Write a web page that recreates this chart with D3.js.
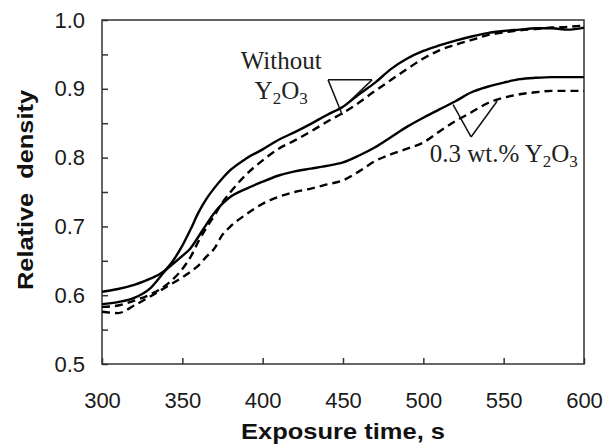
<!DOCTYPE html>
<html>
<head>
<meta charset="utf-8">
<script src="https://cdn.jsdelivr.net/npm/d3@7"></script>
<style>
  body { margin: 0; background: #fff; }
  svg { display: block; }
  .tick text { font-family: "Liberation Sans", Arial, sans-serif; font-size: 22px; fill: #1a1a1a; }
  .title { font-family: "Liberation Sans", Arial, sans-serif; font-size: 22px; font-weight: bold; fill: #111; }
  .note { font-family: "Liberation Serif", "Times New Roman", serif; font-size: 25px; fill: #222; }
</style>
</head>
<body>
<svg id="chart" width="609" height="448"></svg>
<script>
// exposure time (s) for each sample of the curves
var times = [300, 310, 320, 330, 340, 350, 355, 360, 365, 370, 375, 380, 390, 400, 410, 420, 430, 440,
    450, 460, 470, 480, 490, 500, 510, 520, 530, 540, 550, 560, 570, 580, 590, 600];

// without Y2O3
var withoutSolid = [0.605, 0.609, 0.615, 0.624, 0.638, 0.672, 0.695, 0.720, 0.740, 0.756, 0.770, 0.782, 0.799, 0.812,
    0.826, 0.837, 0.849, 0.862, 0.874, 0.892, 0.909, 0.929, 0.944, 0.955, 0.963, 0.970, 0.976, 0.981, 0.984, 0.986,
    0.988, 0.988, 0.986, 0.989];
var withoutDashed = [0.583, 0.585, 0.592, 0.601, 0.615, 0.638, 0.655, 0.678, 0.698, 0.716, 0.735, 0.750, 0.776, 0.796,
    0.813, 0.825, 0.838, 0.852, 0.865, 0.880, 0.897, 0.913, 0.929, 0.944, 0.956, 0.964, 0.971, 0.978, 0.982, 0.985,
    0.987, 0.989, 0.990, 0.992];

// 0.3 wt.% Y2O3
var dopedSolid = [0.587, 0.590, 0.596, 0.610, 0.637, 0.657, 0.668, 0.685, 0.703, 0.720, 0.733, 0.743, 0.755, 0.765,
    0.774, 0.780, 0.784, 0.788, 0.793, 0.803, 0.815, 0.830, 0.845, 0.858, 0.870, 0.882, 0.895, 0.903, 0.909, 0.914,
    0.916, 0.917, 0.917, 0.917];
var dopedDashed = [0.576, 0.574, 0.585, 0.598, 0.612, 0.626, 0.634, 0.643, 0.656, 0.668, 0.688, 0.700, 0.718, 0.733,
    0.743, 0.750, 0.755, 0.761, 0.767, 0.780, 0.795, 0.805, 0.813, 0.822, 0.838, 0.853, 0.866, 0.879, 0.887, 0.892,
    0.895, 0.897, 0.897, 0.897];

var xTicks = [300, 350, 400, 450, 500, 550, 600];
var yTicks = [0.5, 0.55, 0.6, 0.65, 0.7, 0.75, 0.8, 0.85, 0.9, 0.95, 1.0];

var svg = d3.select("#chart"),
    plotLeft = 102, plotRight = 584, plotTop = 20, plotBottom = 364;

var x = d3.scaleLinear().domain([300, 600]).range([plotLeft, plotRight]);
var y = d3.scaleLinear().domain([0.5, 1.0]).range([plotBottom, plotTop]);

// axes, ticks pointing inward
svg.append("g")
    .attr("transform", "translate(0," + plotBottom + ")")
    .call(d3.axisBottom(x).tickValues(xTicks).tickSizeInner(-6).tickSizeOuter(0).tickPadding(28)
        .tickFormat(d3.format("d")))
    .call(function (g) { g.select(".domain").remove(); })
    .call(function (g) { g.selectAll(".tick line").attr("stroke", "#333").attr("stroke-width", 1.5); });

svg.append("g")
    .attr("transform", "translate(" + plotLeft + ",0)")
    .call(d3.axisLeft(y).tickValues(yTicks).tickSizeInner(-6).tickSizeOuter(0).tickPadding(17)
        .tickFormat(function (d) { return Math.round(d * 100) % 10 === 0 ? d.toFixed(1) : ""; }))
    .call(function (g) { g.select(".domain").remove(); })
    .call(function (g) { g.selectAll(".tick line").attr("stroke", "#333").attr("stroke-width", 1.5); });

svg.append("rect")
    .attr("x", plotLeft).attr("y", plotTop)
    .attr("width", plotRight - plotLeft).attr("height", plotBottom - plotTop)
    .attr("fill", "none").attr("stroke", "#333").attr("stroke-width", 1.5);

// curves
var line = d3.line()
    .x(function (d) { return x(d[0]); })
    .y(function (d) { return y(d[1]); })
    .curve(d3.curveMonotoneX);

var series = [
    { values: withoutSolid, dash: null },
    { values: withoutDashed, dash: "8,5" },
    { values: dopedSolid, dash: null },
    { values: dopedDashed, dash: "8,5" }
];

svg.selectAll("path.curve")
    .data(series)
    .enter().append("path")
    .attr("class", "curve")
    .attr("d", function (s) { return line(times.map(function (t, i) { return [t, s.values[i]]; })); })
    .attr("fill", "none")
    .attr("stroke", "#000")
    .attr("stroke-width", 2.4)
    .attr("stroke-dasharray", function (s) { return s.dash; });

// annotations
function formula(text) {
    text.append("tspan").text("Y");
    text.append("tspan").attr("font-size", "17px").attr("dy", 5).text("2");
    text.append("tspan").attr("dy", -5).text("O");
    text.append("tspan").attr("font-size", "17px").attr("dy", 5).text("3");
}

svg.append("text").attr("class", "note")
    .attr("x", x(411.5)).attr("y", y(0.929)).attr("text-anchor", "middle").text("Without");
svg.append("text").attr("class", "note")
    .attr("x", x(411.5)).attr("y", y(0.885)).attr("text-anchor", "middle").call(formula);

var arrows = [
    [[440.7, 0.913], [468.1, 0.913]],
    [[440.7, 0.913], [449.6, 0.862]],
    [[468.1, 0.913], [451.0, 0.875]],
    [[518.5, 0.877], [529.7, 0.830]],
    [[545.9, 0.882], [529.7, 0.830]]
];
svg.selectAll("line.pointer")
    .data(arrows)
    .enter().append("line")
    .attr("class", "pointer")
    .attr("x1", function (d) { return x(d[0][0]); })
    .attr("y1", function (d) { return y(d[0][1]); })
    .attr("x2", function (d) { return x(d[1][0]); })
    .attr("y2", function (d) { return y(d[1][1]); })
    .attr("stroke", "#111").attr("stroke-width", 1.5);

var dop = svg.append("text").attr("class", "note")
    .attr("x", x(504)).attr("y", y(0.793));
dop.append("tspan").text("0.3 wt.% ");
formula(dop);

// axis titles
svg.append("text").attr("class", "title")
    .attr("x", (plotLeft + plotRight) / 2).attr("y", 439)
    .attr("text-anchor", "middle")
    .attr("textLength", 204).attr("lengthAdjust", "spacingAndGlyphs")
    .text("Exposure time, s");
svg.append("text").attr("class", "title")
    .attr("transform", "translate(33," + 190 + ") rotate(-90)")
    .attr("text-anchor", "middle").attr("xml:space", "preserve")
    .attr("textLength", 200).attr("lengthAdjust", "spacingAndGlyphs")
    .text("Relative  density");
</script>
</body>
</html>
